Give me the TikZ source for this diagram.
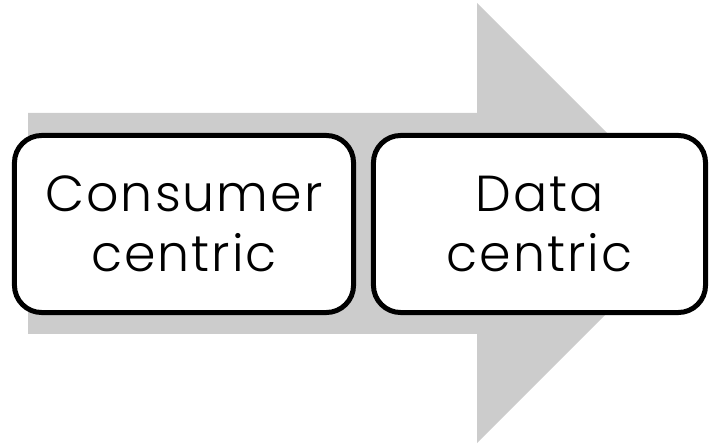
\documentclass[tikz,border=0pt]{standalone}
\usepackage{fontspec}
\setmainfont{Poppins}[UprightFont=* Light,LetterSpace=4]
\usepackage{tikz}
\definecolor{arrowgray}{HTML}{CCCCCC}

\begin{document}
\begin{tikzpicture}[x=0.025cm,y=-0.025cm,
  stagebox/.style={draw=black,line width=0.125cm,fill=white,rounded corners=0.68cm,
    minimum height=4.425cm,align=center,inner sep=0pt,font=\fontsize{36}{43}\selectfont}]
\useasboundingbox (0,0) rectangle (711,445);
\fill[arrowgray] (28,113) -- (477,113) -- (477,3) -- (697,223) -- (477,443) -- (477,334) -- (28,334) -- cycle;
\node (consumer) [stagebox,minimum width=8.475cm] at (184,224) {Consumer\\centric};
\node (data) [stagebox,minimum width=8.3cm] at (539.5,224) {Data\\centric};
\end{tikzpicture}
\end{document}
